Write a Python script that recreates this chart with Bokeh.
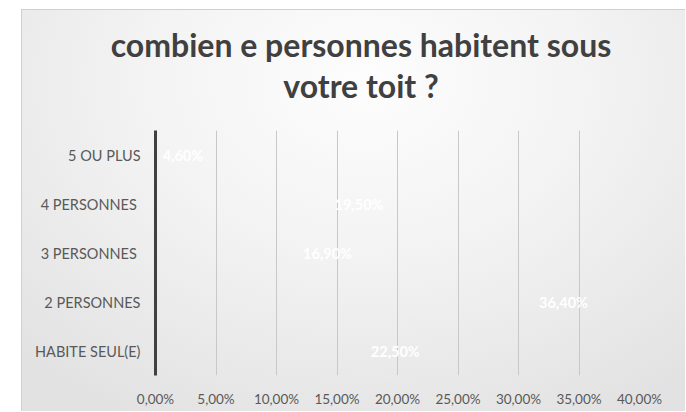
from bokeh.plotting import figure
from bokeh.models import ColumnDataSource, FixedTicker, CustomJSTickFormatter, Div
from bokeh.layouts import column
from bokeh.core.properties import value
from bokeh.embed import file_html
from bokeh.resources import INLINE

categories = ["HABITE SEUL(E)", "2 PERSONNES", "3 PERSONNES ", "4 PERSONNES ", "5 OU PLUS"]
values = [22.5, 36.4, 16.9, 19.5, 4.6]
labels = ["22,50%", "36,40%", "16,90%", "19,50%", "4,60%"]
x_ticks = [0, 5, 10, 15, 20, 25, 30, 35, 40]
title_lines = ["combien e personnes habitent sous", "votre toit ?"]

src = ColumnDataSource(dict(cat=categories, val=values, lab=labels))

title = Div(
    text='<div style="box-sizing:border-box;width:664px;padding:15px 0 0 16px;text-align:center;'
         'font-family:Lato;font-weight:bold;font-size:32px;line-height:41px;color:#404040;">'
         + "<br>".join(title_lines) + "</div>",
    width=664, height=121, margin=0)

p = figure(width=664, height=281, y_range=categories, x_range=(0, 40),
           output_backend="svg", toolbar_location=None,
           min_border_left=134, min_border_right=46, min_border_top=0, min_border_bottom=36)
p.margin = 0

p.border_fill_color = None
p.background_fill_color = None
p.outline_line_color = None

p.hbar(y="cat", right="val", left=0, height=0.6, source=src,
       fill_color="white", fill_alpha=0.0, line_alpha=0.0)
p.text(x="val", y="cat", text="lab", source=src, text_align="right",
       text_baseline="middle", x_offset=-8, text_color="white",
       text_font=value("Lato"), text_font_size="14.5px", text_font_style="bold")

p.xaxis.ticker = FixedTicker(ticks=x_ticks)
p.xaxis.formatter = CustomJSTickFormatter(code="return tick.toFixed(2).replace('.', ',') + '%';")
p.xaxis.axis_line_color = None
p.xaxis.major_tick_line_color = None
p.xaxis.minor_tick_line_color = None
p.xaxis.major_label_standoff = 9
p.xaxis.major_label_text_font = "Lato"
p.xaxis.major_label_text_font_size = "13.5px"
p.xaxis.major_label_text_color = "#595959"

p.yaxis.axis_line_color = "#404040"
p.yaxis.axis_line_width = 3
p.yaxis.major_tick_line_color = None
p.yaxis.minor_tick_line_color = None
p.yaxis.major_label_standoff = 9
p.yaxis.major_label_text_font = "Lato"
p.yaxis.major_label_text_font_size = "14.5px"
p.yaxis.major_label_text_color = "#595959"

p.xgrid.grid_line_color = "#c8c8c8"
p.xgrid.grid_line_width = 1
p.ygrid.grid_line_color = None

layout = column(title, p, spacing=0)
layout.margin = (9, 0, 0, 21)
layout.styles = {
    "background": "radial-gradient(ellipse 75% 95% at 52% 18%, #fdfdfd 0%, #f3f3f3 45%, #e2e2e2 100%)",
    "box-shadow": "inset 1px 1px 0 #d0d0d0",
}

open("out.html", "w").write(file_html(layout, INLINE))
